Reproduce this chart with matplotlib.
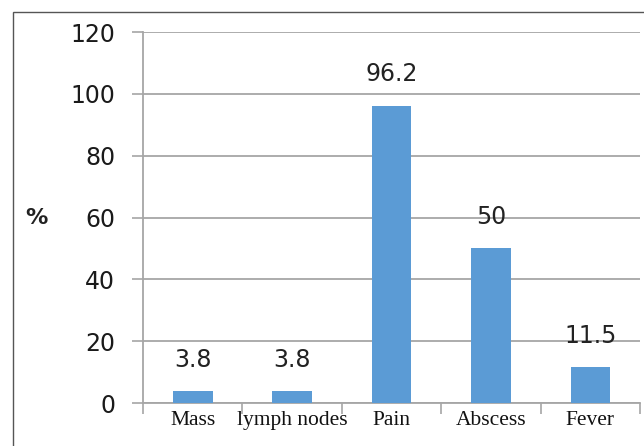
import matplotlib.pyplot as plt
from matplotlib.patches import Rectangle

categories = ['Mass', 'lymph nodes', 'Pain', 'Abscess', 'Fever']
values = [3.8, 3.8, 96.2, 50, 11.5]
value_labels = ['3.8', '3.8', '96.2', '50', '11.5']
y_ticks = [0, 20, 40, 60, 80, 100, 120]

fig = plt.figure(figsize=(6.44, 4.46), dpi=100)
ax = fig.add_axes([0.222, 0.0964, 0.772, 0.8316])

# outer frame around the chart
fig.patches.append(Rectangle((13 / 644, -0.1), 1.2, 1.1 - 12 / 446,
                             transform=fig.transFigure, fill=False,
                             edgecolor='#555555', linewidth=1.0))

x = list(range(len(categories)))
ax.bar(x, values, width=0.4, color='#5b9bd5', zorder=3)

for xi, v, lab in zip(x, values, value_labels):
    ax.annotate(lab, (xi, v), xytext=(0, 14), textcoords='offset points',
                ha='center', va='bottom', fontsize=17, color='#222222',
                family='DejaVu Sans')

ax.set_xlim(-0.5, 4.5)
ax.set_ylim(0, 120)
ax.set_yticks(y_ticks)
ax.set_yticklabels([str(t) for t in y_ticks], fontsize=17, color='#1a1a1a')
ax.yaxis.grid(True, color='#a6a6a6', linewidth=1.3, zorder=0)

ax.set_xticks(x)
ax.set_xticklabels(categories, family='Liberation Serif', fontsize=15.5, color='#111111')
ax.set_xticks([i - 0.5 for i in range(len(categories) + 1)], minor=True)
ax.tick_params(axis='x', which='major', length=0, pad=6)
ax.tick_params(axis='x', which='minor', length=8, width=1.2, color='#a6a6a6')
ax.tick_params(axis='y', length=8, width=1.2, color='#a6a6a6', pad=12)

for s in ['top', 'right']:
    ax.spines[s].set_visible(False)
for s in ['left', 'bottom']:
    ax.spines[s].set_color('#a6a6a6')
    ax.spines[s].set_linewidth(1.3)

fig.text(25 / 644, 1 - 218 / 446, '%', fontsize=16, fontweight='bold',
         va='center', ha='left', color='#222222')

fig.savefig('out.png', dpi=100)
